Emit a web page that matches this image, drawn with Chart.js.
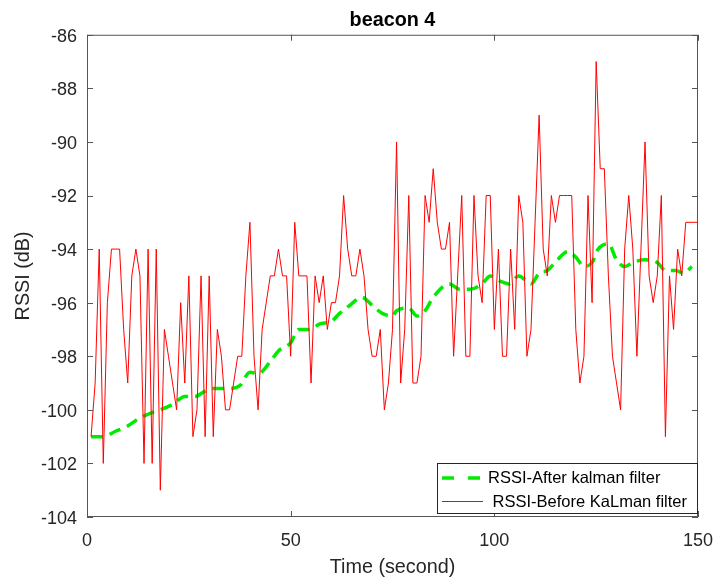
<!DOCTYPE html>
<html lang="en">
<head>
    <meta charset="UTF-8">
    <title>beacon 4</title>
    <script src="https://cdn.jsdelivr.net/npm/chart.js"></script>
    <style>
        html, body { margin: 0; padding: 0; background: #fff; }
        canvas { display: block; }
    </style>
</head>
<body>
<canvas id="beaconChart" width="715" height="579"></canvas>

<script>
    // raw RSSI, one sample per second (t = 1..150)
    const rawTime = Array.from({ length: 150 }, (_, i) => i + 1);
    const rawRssi = [
        -101, -99, -94, -102, -96, -94, -94, -94, -97, -99,
        -95, -94, -95, -102, -94, -102, -94, -103, -97, -98,
        -99, -100, -96, -99, -95, -101, -100, -95, -101, -95,
        -101, -97, -98, -100, -100, -99, -98, -98, -95, -93,
        -98, -100, -97, -96, -95, -95, -94, -95, -95, -98,
        -93, -95, -95, -95, -99, -95, -96, -95, -97, -96,
        -96, -95, -92, -94, -95, -95, -94, -95, -97, -98,
        -98, -97, -100, -99, -97, -90, -99, -97, -92, -99,
        -99, -98, -92, -93, -91, -93, -94, -94, -93, -98,
        -95, -92, -98, -98, -92, -95, -96, -92, -92, -97,
        -94, -98, -98, -94, -97, -92, -93, -98, -97, -93,
        -89, -94, -95, -92, -93, -92, -92, -92, -92, -97,
        -99, -98, -92, -96, -87, -91, -91, -95, -98, -99,
        -100, -94, -92, -94, -98, -94, -90, -95, -96, -95,
        -92, -101, -95, -97, -94, -95, -93, -93, -93, -93
    ];

    // filtered curve at these times
    const kalmanTime = [1, 4, 7, 10, 13, 16, 18, 21, 24, 26.5, 29, 31, 35, 37.5, 40, 42, 45, 47, 50, 52,
        55, 57, 60, 62, 64.5, 67.5, 70, 72.5, 75, 76, 79, 81, 83, 85, 89, 91.5, 94, 97, 99, 101.5,
        103.5, 106, 109, 111, 113, 115.5, 118, 120, 122, 124, 125.5, 128, 130, 132, 134, 137, 140, 142, 144.5, 146.5, 148.5];
    const kalmanRssi = [-101, -101, -100.8, -100.6, -100.3, -100.1, -100, -99.8, -99.5, -99.5, -99.3, -99.2, -99.2, -99.1, -98.6, -98.65, -98.2, -97.8, -97.5, -97,
        -97, -96.8, -96.7, -96.4, -96.1, -95.8, -96.1, -96.4, -96.5, -96.3, -96.2, -96.5, -96.3, -95.8, -95.3, -95.5, -95.5, -95.3, -95, -95.2,
        -95.3, -95, -95.3, -94.9, -94.8, -94.4, -94.1, -94.3, -94.65, -94.5, -94, -93.8, -94.4, -94.65, -94.5, -94.4, -94.5, -94.8, -94.8, -94.9, -94.65];

    const xTicks = [0, 50, 100, 150];
    const yTicks = [-104, -102, -100, -98, -96, -94, -92, -90, -88, -86];

    const seriesNames = ['RSSI-After kalman filter', ' RSSI-Before KaLman filter'];

    const textColor = '#262626';
    const boxColor = '#555';
    const green = 'rgb(0, 235, 0)';
    const red = 'rgb(255, 0, 0)';

    // MATLAB-like box, inward ticks and the legend in the lower right corner
    const boxPlugin = {
        id: 'matlabBox',
        afterDraw(chart) {
            const { ctx, chartArea: a, scales: { x, y } } = chart;
            ctx.save();
            ctx.strokeStyle = boxColor;
            ctx.lineWidth = 1;
            ctx.strokeRect(a.left + 0.5, a.top + 0.5, a.right - a.left - 1, a.bottom - a.top - 1);

            ctx.beginPath();
            xTicks.forEach(v => {
                const px = Math.round(x.getPixelForValue(v)) + 0.5;
                ctx.moveTo(px, a.bottom); ctx.lineTo(px, a.bottom - 6);
                ctx.moveTo(px, a.top); ctx.lineTo(px, a.top + 6);
            });
            yTicks.forEach(v => {
                const py = Math.round(y.getPixelForValue(v)) + 0.5;
                ctx.moveTo(a.left, py); ctx.lineTo(a.left + 6, py);
                ctx.moveTo(a.right, py); ctx.lineTo(a.right - 6, py);
            });
            ctx.stroke();

            // legend
            const lx = 437, ly = 463, lw = 260, lh = 50;
            ctx.fillStyle = '#fff';
            ctx.fillRect(lx, ly, lw, lh);
            ctx.strokeStyle = '#262626';
            ctx.strokeRect(lx + 0.5, ly + 0.5, lw, lh);

            ctx.lineWidth = 3.5;
            ctx.strokeStyle = green;
            ctx.setLineDash([12, 14]);
            ctx.beginPath();
            ctx.moveTo(442, 478); ctx.lineTo(483, 478);
            ctx.stroke();
            ctx.setLineDash([]);

            ctx.lineWidth = 1;
            ctx.strokeStyle = red;
            ctx.beginPath();
            ctx.moveTo(442, 501.5); ctx.lineTo(483, 501.5);
            ctx.stroke();

            ctx.fillStyle = '#000';
            ctx.font = '16.5px "Liberation Sans", Arial, sans-serif';
            ctx.textBaseline = 'middle';
            ctx.fillText(seriesNames[0], 488, 478);
            ctx.fillText(seriesNames[1], 488, 502);
            ctx.restore();
        }
    };

    Chart.defaults.font.family = '"Liberation Sans", Arial, sans-serif';

    new Chart(document.getElementById('beaconChart'), {
        type: 'line',
        data: {
            datasets: [
                {
                    label: seriesNames[0],
                    data: kalmanTime.map((t, i) => ({ x: t, y: kalmanRssi[i] })),
                    borderColor: green,
                    borderWidth: 3.5,
                    borderDash: [12, 7],
                    cubicInterpolationMode: 'monotone',
                    pointRadius: 0,
                    fill: false,
                    order: 1
                },
                {
                    label: seriesNames[1].trim(),
                    data: rawTime.map((t, i) => ({ x: t, y: rawRssi[i] })),
                    borderColor: red,
                    borderWidth: 1,
                    tension: 0,
                    pointRadius: 0,
                    fill: false,
                    order: 0
                }
            ]
        },
        options: {
            responsive: false,
            animation: false,
            layout: { padding: { left: 0, right: 17, top: 0, bottom: 0 } },
            plugins: {
                legend: { display: false },
                tooltip: { enabled: false },
                title: {
                    display: true,
                    text: 'beacon 4',
                    color: '#000',
                    fullSize: false,
                    font: { size: 19.8, weight: 'bold' },
                    padding: { top: 9, bottom: 2 }
                }
            },
            scales: {
                x: {
                    type: 'linear',
                    min: 0,
                    max: 150,
                    afterBuildTicks: s => { s.ticks = xTicks.map(v => ({ value: v })); },
                    afterFit: s => { s.height = 62; s.paddingLeft = 0; s.paddingRight = 0; },
                    grid: { display: false, drawTicks: false },
                    border: { display: false },
                    ticks: { color: textColor, font: { size: 18 }, padding: 13 },
                    title: {
                        display: true,
                        text: 'Time (second)',
                        color: textColor,
                        font: { size: 19.8 },
                        padding: { top: 0, bottom: 0 }
                    }
                },
                y: {
                    min: -104,
                    max: -86,
                    afterBuildTicks: s => { s.ticks = yTicks.map(v => ({ value: v })); },
                    afterFit: s => { s.width = 87; s.paddingTop = 0; s.paddingBottom = 0; },
                    grid: { display: false, drawTicks: false },
                    border: { display: false },
                    ticks: { color: textColor, font: { size: 18 }, padding: 10, labelOffset: 2 },
                    title: {
                        display: true,
                        text: 'RSSI (dB)',
                        color: textColor,
                        font: { size: 19.8 },
                        padding: { top: 12, bottom: 0 }
                    }
                }
            }
        },
        plugins: [boxPlugin]
    });
</script>
</body>
</html>
